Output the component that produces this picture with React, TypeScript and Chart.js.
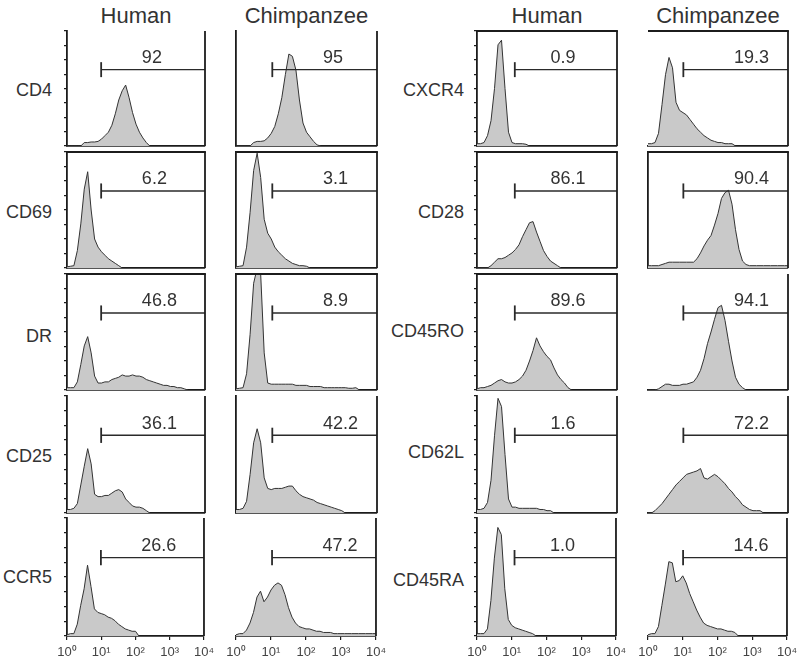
import React, { useEffect, useRef } from "react";
import { Chart, registerables } from "chart.js";

Chart.register(...registerables);

const FONT = "'Liberation Sans', Arial, Helvetica, sans-serif";

// ---------- data ----------
// fluorescence bins in decades (10^0 .. 10^4)
const bins = [
  0, 0.1, 0.2, 0.3, 0.4, 0.5, 0.6, 0.7, 0.8, 0.9,
  1.0, 1.1, 1.2, 1.3, 1.4, 1.5, 1.6, 1.7, 1.8, 1.9,
  2.0, 2.1, 2.2, 2.3, 2.4, 2.5, 2.6, 2.7, 2.8, 2.9,
  3.0, 3.1, 3.2, 3.3, 3.4, 3.5, 3.6, 3.7, 3.8, 3.9, 4.0,
];
const tickLabels = ["10⁰", "10¹", "10²", "10³", "10⁴"];
const columnTitles = ["Human", "Chimpanzee", "Human", "Chimpanzee"];
const leftMarkers = ["CD4", "CD69", "DR", "CD25", "CCR5"];
const rightMarkers = ["CXCR4", "CD28", "CD45RO", "CD62L", "CD45RA"];

const percentLabels = [
  ["92", "95", "0.9", "19.3"],
  ["6.2", "3.1", "86.1", "90.4"],
  ["46.8", "8.9", "89.6", "94.1"],
  ["36.1", "42.2", "1.6", "72.2"],
  ["26.6", "47.2", "1.0", "14.6"],
];
const gateStarts = [0.99, 1.03, 1.08, 1.01];
const gateLevel = 66.4;
const labelLevel = 76.3;
const labelStarts = [2.17, 2.47, 2.1, 2.46];

// event counts (% of panel height) per bin
const cd4Human = [0, 0, 0, 0, 0, 3, 3, 3.5, 3.5, 4, 6, 9, 12, 18, 28, 40, 48, 53, 42, 29, 19, 12, 7, 3, 0];
const cd4Chimp = [0, 0, 0, 0, 0, 3, 4, 4, 4.5, 7, 11, 17, 28, 42, 62, 80, 78, 66, 40, 20, 12, 8, 4, 1, 0];
const cd69Human = [1, 1.5, 2, 15, 38, 68, 83, 50, 25, 18, 14, 11, 8, 6, 4, 2, 0];
const cd69Chimp = [1, 1.5, 2, 18, 48, 84, 99, 78, 42, 30, 25, 18, 14, 11, 8, 6, 4, 3, 2, 2, 1.5, 0];
const drHuman = [2, 2, 2, 7, 22, 38, 46, 32, 12, 6, 6, 7, 7, 9, 10, 11, 13, 12, 12, 13, 12, 12, 11, 9, 8, 7, 6, 5, 4, 4, 3, 3, 2, 2, 1, 0];
const drChimp = [1, 1.5, 2, 14, 48, 92, 105, 100, 32, 6, 5, 5, 5, 5, 5, 5, 5, 4, 4, 4, 4, 3, 3, 3, 3, 2, 2, 2, 2, 2, 2, 2, 1.5, 1.5, 2, 0];
const cd25Human = [3, 3, 4, 8, 24, 40, 55, 42, 16, 14, 14, 15, 15, 17, 19, 20, 18, 12, 9, 6, 5, 5, 4, 2, 0];
const cd25Chimp = [3, 3, 4, 10, 33, 60, 72, 60, 30, 21, 20, 21, 21, 21, 22, 23, 23, 19, 16, 14, 13, 12, 11, 9, 8, 7, 6, 5, 4, 3, 2, 0];
const ccr5Human = [1, 2, 2, 10, 26, 40, 60, 42, 23, 20, 19, 18, 16, 15, 13, 10, 8, 6, 5, 4, 4, 0];
const ccr5Chimp = [1, 2, 2, 5, 11, 20, 33, 38, 29, 33, 39, 43, 45, 43, 35, 24, 16, 11, 8, 7, 6, 6, 5, 4, 4, 3, 3, 3, 2, 2, 2, 2, 2, 2, 2, 2, 2, 2, 2, 2, 2];
const cxcr4Human = [2, 2, 3, 9, 22, 50, 88, 92, 50, 12, 3, 2, 2, 2, 1.5, 0];
const cxcr4Chimp = [2, 2, 3, 11, 36, 62, 77, 68, 38, 31, 29, 27, 23, 19, 15, 12, 9, 7, 5, 4, 3, 3, 2, 2, 2, 0];
const cd28Human = [0, 0, 0, 0, 2, 5, 8, 8, 9, 11, 13, 16, 20, 27, 33, 39, 40, 31, 23, 15, 10, 6, 4, 2, 0];
const cd28Chimp = [2, 2, 2, 2, 3, 4, 5, 5, 5, 5, 5, 5, 5, 5, 8, 13, 19, 24, 28, 37, 47, 60, 65, 67, 55, 33, 16, 6, 3, 2, 2, 2, 2, 2, 2, 2, 2, 2, 2, 2, 2];
const cd45roHuman = [1, 2, 2, 3, 4, 6, 8, 9, 7, 6, 6, 7, 9, 12, 17, 25, 34, 45, 38, 33, 29, 26, 19, 13, 9, 6, 2, 0];
const cd45roChimp = [0, 0, 0, 1, 3, 5, 5, 4, 4, 4, 5, 5, 6, 7, 11, 17, 27, 40, 50, 61, 71, 73, 60, 42, 25, 11, 5, 2, 0];
const cd62lHuman = [3, 3, 4, 9, 28, 66, 98, 91, 50, 12, 5, 5, 4, 4, 4, 4, 4, 4, 3, 3, 2, 2, 0];
const cd62lChimp = [0, 0, 2, 5, 8, 12, 16, 20, 24, 27, 30, 33, 34, 35, 36, 38, 30, 29, 31, 33, 31, 28, 25, 21, 18, 14, 11, 7, 5, 3, 2, 2, 2, 0];
const cd45raHuman = [2, 2, 2, 6, 30, 66, 92, 86, 40, 14, 9, 7, 6, 5, 4, 3, 2, 0];
const cd45raChimp = [1, 2, 2, 8, 26, 44, 63, 62, 46, 47, 51, 45, 36, 29, 22, 16, 11, 9, 8, 7, 6, 6, 5, 4, 4, 3, 0];

const histograms = [
  [cd4Human, cd4Chimp, cxcr4Human, cxcr4Chimp],
  [cd69Human, cd69Chimp, cd28Human, cd28Chimp],
  [drHuman, drChimp, cd45roHuman, cd45roChimp],
  [cd25Human, cd25Chimp, cd62lHuman, cd62lChimp],
  [ccr5Human, ccr5Chimp, cd45raHuman, cd45raChimp],
];

// ---------- layout / style ----------
const COLS = [
  { left: 67, right: 205 },
  { left: 236, right: 377 },
  { left: 477, right: 617 },
  { left: 648, right: 788 },
];
const ROWS = [
  { top: 31, bottom: 146 },
  { top: 152, bottom: 268 },
  { top: 274, bottom: 390 },
  { top: 396, bottom: 513 },
  { top: 518, bottom: 636 },
];
const FRAMES = [
  ["LRB", "LRB", "TLRB", "TRB"],
  ["TLRB", "TLRB", "TLRB", "TLRB"],
  ["TLRB", "TLRB", "TLRB", "RB"],
  ["LRB", "LRB", "LRB", "RB"],
  ["LRB", "RB", "LRB", "RB"],
];
const YTICKS = [
  ["dash", "none", "dash", "none"],
  ["tick", "none", "tick", "none"],
  ["dash", "none", "tick", "none"],
  ["tick", "none", "dash", "none"],
  ["tick", "none", "dash", "none"],
];
const LEFT_LABEL_Y = [90, 211.7, 336, 455.7, 576.7];
const RIGHT_LABEL_Y = [90, 211.7, 331, 451.7, 580];

const LINE = "#1c1c1c";

function Panel({ r, c }: { r: number; c: number }) {
  const ref = useRef<HTMLCanvasElement>(null);
  const col = COLS[c];
  const row = ROWS[r];
  const bottomRow = r === ROWS.length - 1;
  const padL = 16;
  const padR = 14;
  const padT = 3;
  const axisH = bottomRow ? 26 : 0;
  const padB = bottomRow ? 29 : 3;
  const w = col.right - col.left + padL + padR;
  const h = row.bottom - row.top + padT + padB;

  useEffect(() => {
    const hist = histograms[r][c];
    const sides = FRAMES[r][c];
    const yStyle = YTICKS[r][c];
    const gx = gateStarts[c];
    const label = percentLabels[r][c];

    const decor = {
      id: "decor" + r + c,
      afterDraw(chart: any) {
        const { ctx, chartArea: a } = chart;
        ctx.save();
        ctx.strokeStyle = LINE;
        ctx.lineWidth = 1.8;
        if (sides.includes("T")) {
          ctx.beginPath();
          ctx.moveTo(a.left - (sides.includes("L") ? 0.9 : 0), a.top);
          ctx.lineTo(a.right + 0.9, a.top);
          ctx.stroke();
        }
        if (sides.includes("R")) {
          ctx.beginPath();
          ctx.moveTo(a.right, a.top);
          ctx.lineTo(a.right, a.bottom);
          ctx.stroke();
        }
        const xs = chart.scales.x;
        const ys = chart.scales.y;
        ctx.fillStyle = "#333";
        ctx.font = `18px ${FONT}`;
        ctx.textAlign = "left";
        ctx.textBaseline = "middle";
        ctx.fillText(label, xs.getPixelForValue(labelStarts[c]), ys.getPixelForValue(labelLevel));
        ctx.restore();
      },
    };

    const chart = new Chart(ref.current as HTMLCanvasElement, {
      type: "line",
      data: {
        datasets: [
          {
            data: [
              { x: gx, y: gateLevel },
              { x: 4, y: gateLevel },
            ],
            borderColor: "#2a2a2a",
            borderWidth: 1.4,
            pointRadius: 0,
            fill: false,
            clip: 4,
          } as any,
          {
            data: [
              { x: gx, y: gateLevel - 6.5 },
              { x: gx, y: gateLevel + 6.5 },
            ],
            borderColor: "#2a2a2a",
            borderWidth: 1.8,
            pointRadius: 0,
            fill: false,
            clip: 4,
          } as any,
          {
            data: hist.map((v, i) => ({ x: bins[i], y: v })),
            borderColor: "#333",
            borderWidth: 1,
            backgroundColor: "#c9c9c9",
            fill: "origin",
            pointRadius: 0,
            tension: 0,
          } as any,
        ],
      },
      options: {
        responsive: false,
        animation: false,
        devicePixelRatio: 1,
        events: [],
        layout: { padding: { left: padL - 4, right: padR, top: padT, bottom: padB - axisH } },
        plugins: { legend: { display: false }, tooltip: { enabled: false } },
        scales: {
          x: {
            type: "linear",
            min: 0,
            max: 4,
            afterFit: (s: any) => {
              s.height = axisH;
            },
            grid: {
              display: bottomRow,
              drawOnChartArea: false,
              drawTicks: true,
              tickLength: 4,
              color: LINE,
              lineWidth: 1.2,
            },
            border: { display: true, color: LINE, width: 1.8 },
            ticks: {
              display: bottomRow,
              stepSize: 1,
              autoSkip: false,
              maxRotation: 0,
              padding: 5,
              color: "#444",
              font: { size: 13, family: FONT },
              callback: (v: any) => tickLabels[Math.round(Number(v))],
            },
          },
          y: {
            type: "linear",
            min: 0,
            max: 100,
            afterFit: (s: any) => {
              s.width = 4;
            },
            grid: {
              display: yStyle !== "none",
              drawOnChartArea: false,
              drawTicks: true,
              tickLength: 3,
              color: LINE,
              lineWidth: 1.2,
            },
            border: {
              display: sides.includes("L"),
              color: LINE,
              width: 1.8,
              dash: yStyle === "dash" ? [2, 1.5] : [],
            },
            ticks: { display: false, stepSize: 12.5 },
          },
        },
      } as any,
      plugins: [decor as any],
    });
    return () => chart.destroy();
  }, []);

  return (
    <canvas
      ref={ref}
      width={w}
      height={h}
      style={{
        position: "absolute",
        left: col.left - padL,
        top: row.top - padT,
        width: w,
        height: h,
      }}
    />
  );
}

export default function App() {
  const panels: React.ReactNode[] = [];
  for (let r = 0; r < ROWS.length; r++) {
    for (let c = 0; c < COLS.length; c++) {
      panels.push(<Panel key={r + "-" + c} r={r} c={c} />);
    }
  }
  const textStyle: React.CSSProperties = {
    position: "absolute",
    fontFamily: FONT,
    color: "#333",
    whiteSpace: "nowrap",
  };
  return (
    <div
      style={{
        position: "absolute",
        left: 0,
        top: 0,
        width: 800,
        height: 661,
        background: "#fff",
        overflow: "hidden",
      }}
    >
      {columnTitles.map((t, i) => {
        const cx = (COLS[i].left + COLS[i].right) / 2;
        return (
          <div
            key={"t" + i}
            style={{
              ...textStyle,
              left: cx - 80,
              width: 160,
              top: 5,
              fontSize: 22,
              lineHeight: "22px",
              textAlign: "center",
            }}
          >
            {t}
          </div>
        );
      })}
      {leftMarkers.map((m, i) => (
        <div
          key={"l" + i}
          style={{
            ...textStyle,
            left: 0,
            width: 52,
            top: LEFT_LABEL_Y[i] - 8.8,
            fontSize: 18,
            lineHeight: "18px",
            textAlign: "right",
          }}
        >
          {m}
        </div>
      ))}
      {rightMarkers.map((m, i) => (
        <div
          key={"r" + i}
          style={{
            ...textStyle,
            left: 380,
            width: 84,
            top: RIGHT_LABEL_Y[i] - 8.8,
            fontSize: 18,
            lineHeight: "18px",
            textAlign: "right",
          }}
        >
          {m}
        </div>
      ))}
      {panels}
    </div>
  );
}
